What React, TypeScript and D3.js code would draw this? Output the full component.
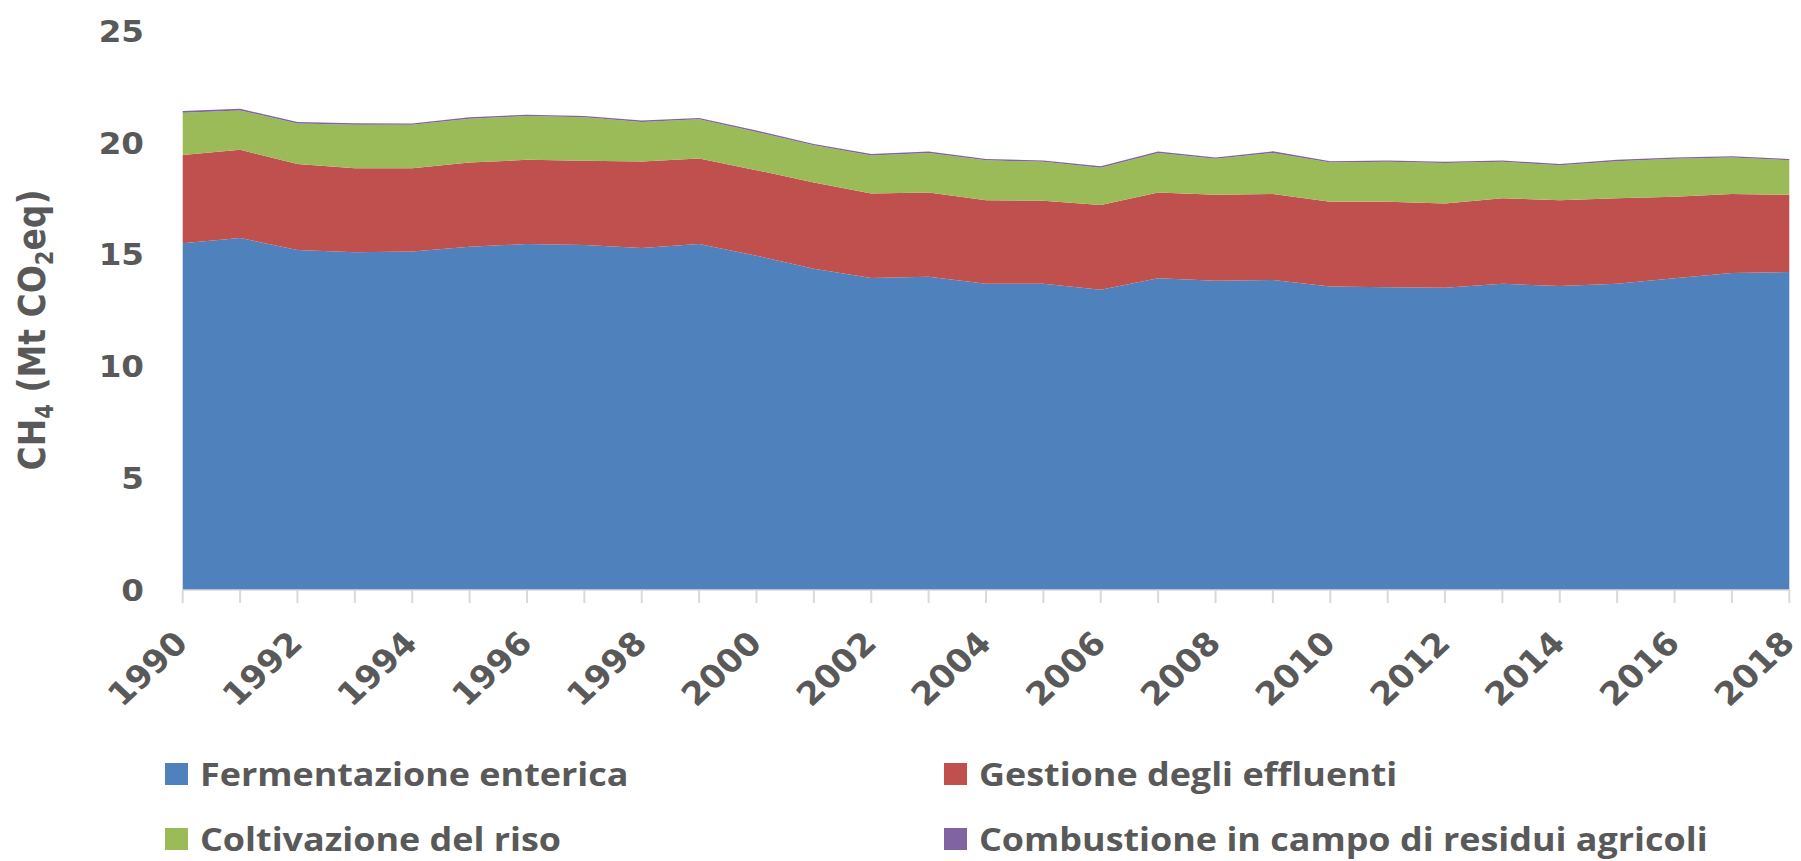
import React from "react";
import * as d3 from "d3";

const years = [1990, 1991, 1992, 1993, 1994, 1995, 1996, 1997, 1998, 1999, 2000, 2001, 2002, 2003, 2004, 2005, 2006, 2007, 2008, 2009, 2010, 2011, 2012, 2013, 2014, 2015, 2016, 2017, 2018];

const enteric = [15.49, 15.73, 15.19, 15.09, 15.13, 15.34, 15.46, 15.42, 15.28, 15.46, 14.94, 14.35, 13.94, 14.0, 13.68, 13.68, 13.42, 13.93, 13.82, 13.85, 13.56, 13.53, 13.5, 13.68, 13.58, 13.68, 13.93, 14.17, 14.21];
const manure = [3.95, 3.94, 3.84, 3.76, 3.72, 3.76, 3.76, 3.76, 3.87, 3.82, 3.82, 3.86, 3.78, 3.76, 3.74, 3.71, 3.78, 3.83, 3.84, 3.84, 3.79, 3.82, 3.77, 3.83, 3.84, 3.83, 3.64, 3.52, 3.45];
const rice = [1.89, 1.76, 1.81, 1.94, 1.94, 1.96, 1.96, 1.94, 1.76, 1.75, 1.71, 1.66, 1.7, 1.77, 1.78, 1.74, 1.67, 1.77, 1.61, 1.84, 1.75, 1.78, 1.81, 1.62, 1.56, 1.65, 1.7, 1.63, 1.54];
const burning = [0.07, 0.07, 0.07, 0.07, 0.06, 0.06, 0.06, 0.06, 0.07, 0.06, 0.06, 0.06, 0.06, 0.06, 0.06, 0.06, 0.06, 0.06, 0.06, 0.07, 0.06, 0.06, 0.06, 0.06, 0.06, 0.06, 0.06, 0.06, 0.06];

const seriesKeys = ["enteric", "manure", "rice", "burning"];
const seriesNames = [
  "Fermentazione enterica",
  "Gestione degli effluenti",
  "Coltivazione del riso",
  "Combustione in campo di residui agricoli",
];
const seriesColors = ["#4F81BD", "#C0504D", "#9BBB59", "#8064A2"];

const yTicks = [0, 5, 10, 15, 20, 25];
const xTickLabels = [1990, 1992, 1994, 1996, 1998, 2000, 2002, 2004, 2006, 2008, 2010, 2012, 2014, 2016, 2018];

const TEXT = "#595959";
const AXIS_FONT = "'DejaVu Sans', Verdana, sans-serif";
const LEGEND_FONT = "'Open Sans', sans-serif";

export default function App() {
  const W = 1801;
  const H = 861;
  const x = d3.scaleLinear().domain([1990, 2018]).range([182.7, 1789.3]);
  const y = d3.scaleLinear().domain([0, 25]).range([590, 30.5]);

  const rows = years.map((yr, i) => ({
    year: yr,
    enteric: enteric[i],
    manure: manure[i],
    rice: rice[i],
    burning: burning[i],
  }));
  const stacked = d3.stack<any>().keys(seriesKeys)(rows);
  const area = d3
    .area<any>()
    .x((d) => x(d.data.year))
    .y0((d) => y(d[0]))
    .y1((d) => y(d[1]));

  const legendCols = [165, 944];
  const legendRows = [786, 851];

  return (
    <div style={{ position: "absolute", left: 0, top: 0 }}>
      <svg width={W} height={H} style={{ display: "block", background: "#fff" }}>
        {stacked.map((s, i) => (
          <path key={seriesKeys[i]} d={area(s) || ""} fill={seriesColors[i]} />
        ))}

        {/* x axis line */}
        <line x1={x(1990)} x2={x(2018)} y1={y(0)} y2={y(0)} stroke="#D9D9D9" strokeWidth={1.5} />
        {years.map((yr) => (
          <line key={"t" + yr} x1={x(yr)} x2={x(yr)} y1={y(0)} y2={y(0) + 13} stroke="#D9D9D9" strokeWidth={2} />
        ))}

        {/* y tick labels */}
        {yTicks.map((v) => (
          <text
            key={"y" + v}
            transform={`translate(144, ${y(v)}) scale(1.05, 1)`}
            textAnchor="end"
            dy="0.36em"
            fontFamily={AXIS_FONT}
            fontWeight="bold"
            fontSize={31}
            fill={TEXT}
          >
            {v}
          </text>
        ))}

        {/* x tick labels */}
        {xTickLabels.map((yr) => (
          <text
            key={"x" + yr}
            transform={`translate(${x(yr) + 7}, 645) scale(1.07, 1) rotate(-45)`}
            textAnchor="end"
            fontFamily={AXIS_FONT}
            fontWeight="bold"
            fontSize={32}
            fill={TEXT}
          >
            {yr}
          </text>
        ))}

        {/* y axis title */}
        <text
          transform={`translate(45, 330) scale(1.15, 1) rotate(-90)`}
          textAnchor="middle"
          fontFamily={AXIS_FONT}
          fontWeight="bold"
          fontSize={33}
          fill={TEXT}
        >
          CH
          <tspan fontSize={21} dy={7}>4</tspan>
          <tspan dy={-7}> (Mt CO</tspan>
          <tspan fontSize={21} dy={7}>2</tspan>
          <tspan dy={-7}>eq)</tspan>
        </text>

        {/* legend */}
        {seriesNames.map((name, i) => {
          const cx = legendCols[i % 2];
          const by = legendRows[Math.floor(i / 2)];
          return (
            <g key={"l" + i}>
              <rect x={cx} y={by - 23} width={23} height={22} fill={seriesColors[i]} />
              <text
                transform={`translate(${cx + 35}, ${by}) scale(1.14, 1)`}
                fontFamily={LEGEND_FONT}
                fontWeight="bold"
                fontSize={31.5}
                fill={TEXT}
              >
                {name}
              </text>
            </g>
          );
        })}
      </svg>
    </div>
  );
}
